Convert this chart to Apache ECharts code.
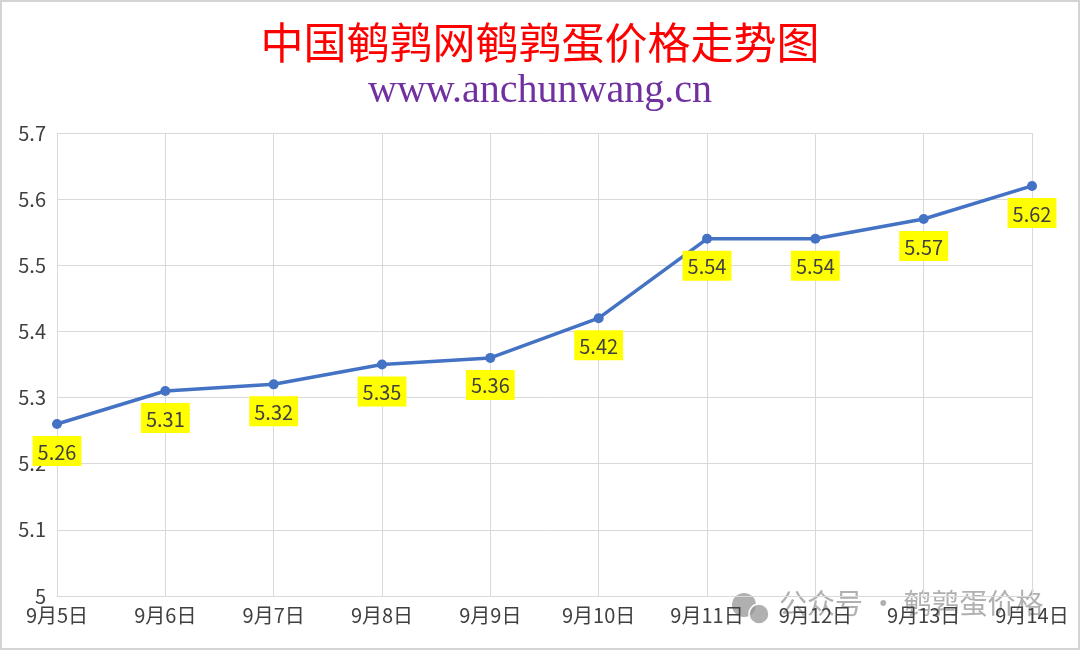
<!DOCTYPE html>
<html><head><meta charset="utf-8">
<script src="https://cdn.jsdelivr.net/npm/echarts@6/dist/echarts.min.js"></script>
<style>
html,body{margin:0;padding:0;background:#fff;}
#c{width:1080px;height:650px;box-sizing:border-box;border:2px solid #d4d4d4;}
</style></head>
<body><div id="c"></div>
<script>
const categories = ['9月5日','9月6日','9月7日','9月8日','9月9日','9月10日','9月11日','9月12日','9月13日','9月14日'];
const prices = [5.26,5.31,5.32,5.35,5.36,5.42,5.54,5.54,5.57,5.62];
const titleText = '中国鹌鹑网鹌鹑蛋价格走势图';
const subtitleText = 'www.anchunwang.cn';
const watermarkText = '公众号 · 鹌鹑蛋价格';

const chart = echarts.init(document.getElementById('c'));
chart.setOption({
  animation:false,
  title:{
    text:titleText, subtext:subtitleText, left:'center', top:14, itemGap:8,
    textStyle:{color:'#ff0000', fontSize:43, fontWeight:'normal', fontFamily:'Noto Sans CJK SC'},
    subtextStyle:{color:'#7030a0', fontSize:40, fontFamily:'Liberation Serif'}
  },
  grid:{left:55, right:46, top:131, bottom:52},
  xAxis:{
    type:'category', data:categories, boundaryGap:false,
    axisLine:{lineStyle:{color:'#d9d9d9'}}, axisTick:{show:false},
    splitLine:{show:true, lineStyle:{color:'#d9d9d9'}},
    axisLabel:{color:'#404040', fontSize:20, fontFamily:'Noto Sans CJK SC', margin:9}
  },
  yAxis:{
    type:'value', min:5, max:5.7, interval:0.1,
    axisLine:{show:false}, axisTick:{show:false},
    splitLine:{lineStyle:{color:'#d9d9d9'}},
    axisLabel:{color:'#404040', fontSize:20, fontFamily:'Noto Sans CJK SC', margin:11,
      formatter:v=>String(Math.round(v*10)/10)}
  },
  series:[{
    type:'line', data:prices, symbol:'circle', symbolSize:10,
    lineStyle:{color:'#4472c4', width:3.5}, itemStyle:{color:'#4472c4'},
    label:{show:true, position:'bottom', distance:7, backgroundColor:'#ffff00',
      color:'#404040', fontSize:20, fontFamily:'Noto Sans CJK SC', padding:[6,5,4,5],
      formatter:p=>p.value.toFixed(2)}
  }],
  graphic:[{
    type:'text', left:777, top:587, silent:true,
    style:{text:watermarkText, fill:'rgba(150,150,150,0.75)', fontSize:28, fontFamily:'Noto Sans CJK SC'}
  },{
    type:'circle', shape:{cx:742, cy:603, r:12}, style:{fill:'rgba(150,150,150,0.75)'}
  },{
    type:'circle', shape:{cx:757, cy:612, r:10}, style:{fill:'rgba(150,150,150,0.75)', stroke:'#fff', lineWidth:1.5}
  }]
});
</script></body></html>
